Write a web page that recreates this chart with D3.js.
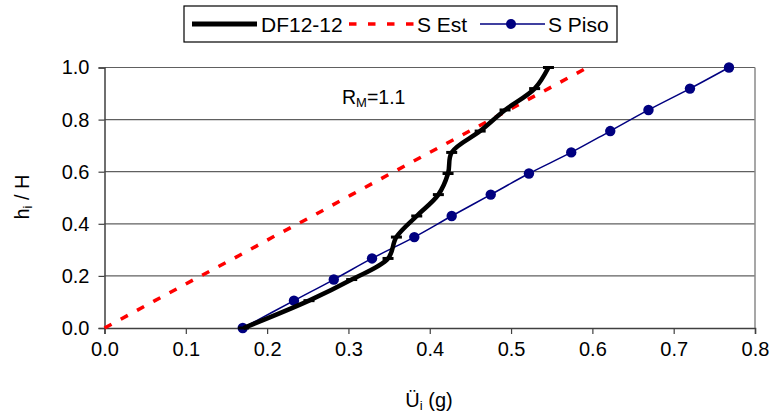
<!DOCTYPE html>
<html>
<head>
<meta charset="utf-8">
<script src="https://cdn.jsdelivr.net/npm/d3@7/dist/d3.min.js"></script>
<style>
  html, body { margin: 0; padding: 0; background: #fff; }
  svg { display: block; font-family: "Liberation Sans", Arial, sans-serif; }
</style>
</head>
<body>
<svg id="chart" width="772" height="417"></svg>
<script>
// ---- data ----
const heights = [0, 0.105, 0.186, 0.267, 0.349, 0.430, 0.512, 0.593, 0.674, 0.756, 0.837, 0.919, 1.0];
const dfValues = [0.171, 0.2515, 0.304, 0.3487, 0.359, 0.384, 0.4106, 0.4225, 0.427, 0.462, 0.4926, 0.529, 0.546];
const sEstValues = [0, 0.062, 0.110, 0.159, 0.207, 0.256, 0.304, 0.352, 0.400, 0.449, 0.497, 0.546, 0.594];
const sPisoValues = [0.170, 0.233, 0.282, 0.329, 0.381, 0.427, 0.475, 0.522, 0.574, 0.622, 0.669, 0.720, 0.768];
const xTicks = [0, 0.1, 0.2, 0.3, 0.4, 0.5, 0.6, 0.7, 0.8];
const yTicks = [0, 0.2, 0.4, 0.6, 0.8, 1.0];
const seriesNames = ["DF12-12", "S Est", "S Piso"];

// ---- layout ----
const svg = d3.select("#chart");
const x = d3.scaleLinear().domain([0, 0.8]).range([104.5, 755]);
const y = d3.scaleLinear().domain([0, 1]).range([328, 67.5]);
const fontSize = 20;

// gridlines
svg.append("g").selectAll("line").data(yTicks.filter(d => d > 0)).join("line")
  .attr("x1", x(0)).attr("x2", x(0.8))
  .attr("y1", d => y(d)).attr("y2", d => y(d))
  .attr("stroke", "#606060").attr("stroke-width", 1.2);

// plot border (right side)
svg.append("line").attr("x1", x(0.8)).attr("x2", x(0.8)).attr("y1", y(1)).attr("y2", y(0))
  .attr("stroke", "#8a8a8a").attr("stroke-width", 1.5);

// axes
const xAxis = d3.axisBottom(x).tickValues(xTicks).tickFormat(d3.format(".1f")).tickSize(6).tickPadding(8);
const yAxis = d3.axisLeft(y).tickValues(yTicks).tickFormat(d3.format(".1f")).tickSize(6).tickPadding(9);

const gx = svg.append("g").attr("transform", `translate(0,${y(0)})`).call(xAxis);
const gy = svg.append("g").attr("transform", `translate(${x(0)},0)`).call(yAxis);
[gx, gy].forEach(g => {
  g.select(".domain").attr("stroke", "#404040").attr("stroke-width", 1.5);
  g.selectAll(".tick line").attr("stroke", "#404040").attr("stroke-width", 1.2);
  g.selectAll(".tick text").attr("fill", "#000").attr("font-size", fontSize)
    .attr("font-family", "Liberation Sans, Arial, sans-serif");
});

// series: S Est (red dashed)
const pts = (vals) => vals.map((v, i) => [v, heights[i]]);
const line = d3.line().x(d => x(d[0])).y(d => y(d[1]));

svg.append("path").datum(pts(sEstValues)).attr("d", line)
  .attr("fill", "none").attr("stroke", "#ff0000").attr("stroke-width", 3.5)
  .attr("stroke-dasharray", "8,10.5");

// S Piso (navy with dots)
svg.append("path").datum(pts(sPisoValues)).attr("d", line.curve(d3.curveCatmullRom.alpha(0.5)))
  .attr("fill", "none").attr("stroke", "#000080").attr("stroke-width", 1.5);
line.curve(d3.curveLinear);
svg.append("g").selectAll("circle").data(pts(sPisoValues)).join("circle")
  .attr("cx", d => x(d[0])).attr("cy", d => y(d[1])).attr("r", 5.2)
  .attr("fill", "#000080");

// DF12-12 (thick black with dash markers)
svg.append("path").datum(pts(dfValues)).attr("d", line.curve(d3.curveCatmullRom.alpha(0.5)))
  .attr("fill", "none").attr("stroke", "#000").attr("stroke-width", 4.5)
  .attr("stroke-linejoin", "round");
line.curve(d3.curveLinear);
svg.append("g").selectAll("rect").data(pts(dfValues)).join("rect")
  .attr("x", d => x(d[0]) - 5.5).attr("y", d => y(d[1]) - 1.5)
  .attr("width", 11).attr("height", 3).attr("fill", "#000");

// annotation R_M=1.1
const ann = svg.append("text").attr("x", 342).attr("y", 104)
  .attr("font-size", 19.5).attr("fill", "#000");
ann.append("tspan").text("R");
ann.append("tspan").text("M").attr("font-size", 13).attr("dy", 3);
ann.append("tspan").text("=1.1").attr("dy", -3);

// axis titles
svg.append("text").attr("x", 429).attr("y", 407).attr("text-anchor", "middle")
  .attr("font-size", fontSize).attr("fill", "#000")
  .call(t => { t.append("tspan").text("Ü"); t.append("tspan").text("i").attr("font-size", 13).attr("dy", 3); t.append("tspan").text(" (g)").attr("dy", -3); });

svg.append("text").attr("transform", "translate(29,197) rotate(-90)").attr("text-anchor", "middle")
  .attr("font-size", fontSize).attr("fill", "#000")
  .call(t => { t.append("tspan").text("h"); t.append("tspan").text("i").attr("font-size", 13).attr("dy", 3); t.append("tspan").text(" / H").attr("dy", -3); });

// legend
const lg = svg.append("g");
lg.append("rect").attr("x", 184).attr("y", 6).attr("width", 433).attr("height", 36)
  .attr("fill", "#fff").attr("stroke", "#000").attr("stroke-width", 1.2);
const ly = 24;
lg.append("line").attr("x1", 192).attr("x2", 257).attr("y1", ly).attr("y2", ly)
  .attr("stroke", "#000").attr("stroke-width", 5);
lg.append("line").attr("x1", 349).attr("x2", 414).attr("y1", ly).attr("y2", ly)
  .attr("stroke", "#ff0000").attr("stroke-width", 3.5).attr("stroke-dasharray", "7.5,11.5");
lg.append("line").attr("x1", 480).attr("x2", 545).attr("y1", ly).attr("y2", ly)
  .attr("stroke", "#000080").attr("stroke-width", 1.5);
lg.append("circle").attr("cx", 511).attr("cy", ly).attr("r", 5).attr("fill", "#000080");
const legendX = [261, 417, 548];
lg.selectAll("text.leg").data(seriesNames).join("text").attr("class", "leg")
  .attr("x", (d, i) => legendX[i]).attr("y", ly + 7.5)
  .attr("font-size", 21).attr("fill", "#000").text(d => d);
</script>
</body>
</html>
